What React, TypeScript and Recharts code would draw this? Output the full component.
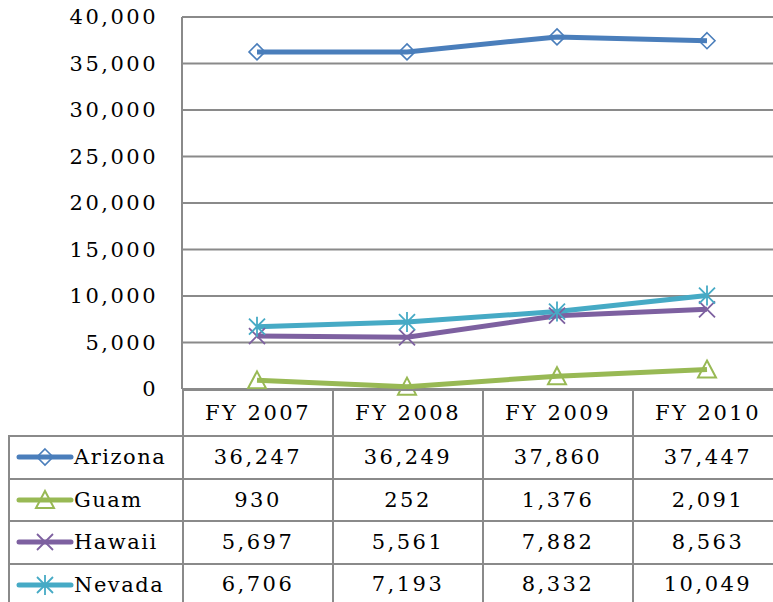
import { CartesianGrid, Line, LineChart, XAxis, YAxis } from 'recharts';

const years = ['FY 2007', 'FY 2008', 'FY 2009', 'FY 2010'];
const arizona = [36247, 36249, 37860, 37447];
const guam = [930, 252, 1376, 2091];
const hawaii = [5697, 5561, 7882, 8563];
const nevada = [6706, 7193, 8332, 10049];
const yTicks = [0, 5000, 10000, 15000, 20000, 25000, 30000, 35000, 40000];

const series = [
  { key: 'Arizona', values: arizona, color: '#4A7EBB', marker: 'diamond' },
  { key: 'Guam', values: guam, color: '#98B954', marker: 'triangle' },
  { key: 'Hawaii', values: hawaii, color: '#7D60A0', marker: 'cross' },
  { key: 'Nevada', values: nevada, color: '#46AAC5', marker: 'star' },
];

const data = years.map((year, i) => {
  const row: Record<string, string | number> = { year };
  series.forEach((s) => {
    row[s.key] = s.values[i];
  });
  return row;
});

const FONT = '"DejaVu Serif", serif';
const GRID = '#8A8A8A';
const PLOT_LEFT = 182;
const BAND = 150;
const HEADER_TOP = 389;
const HEADER_H = 46;
const ROW_H = 42.5;

const fmt = (v: number) => v.toLocaleString('en-US');

function Marker({ cx, cy, kind, color }: { cx: number; cy: number; kind: string; color: string }) {
  if (cx == null || cy == null) return null;
  const r = 8;
  if (kind === 'diamond') {
    return (
      <path
        d={`M${cx},${cy - r}L${cx + r},${cy}L${cx},${cy + r}L${cx - r},${cy}Z`}
        fill="none"
        stroke={color}
        strokeWidth={1.6}
      />
    );
  }
  if (kind === 'triangle') {
    return (
      <path
        d={`M${cx},${cy - 9}L${cx + 9},${cy + 8}L${cx - 9},${cy + 8}Z`}
        fill="none"
        stroke={color}
        strokeWidth={2}
      />
    );
  }
  const d = `M${cx - r},${cy - r}L${cx + r},${cy + r}M${cx - r},${cy + r}L${cx + r},${cy - r}`;
  if (kind === 'cross') {
    return <path d={d} stroke={color} strokeWidth={1.8} fill="none" />;
  }
  return <path d={`${d}M${cx},${cy - 10}L${cx},${cy + 10}`} stroke={color} strokeWidth={1.8} fill="none" />;
}

const cellText: React.CSSProperties = {
  position: 'absolute',
  fontFamily: FONT,
  fontSize: 21,
  letterSpacing: 2.5,
  color: '#000',
  display: 'flex',
  alignItems: 'center',
  justifyContent: 'center',
  boxSizing: 'border-box',
};

export default function App() {
  const rowsTop = HEADER_TOP + HEADER_H;
  return (
    <div
      style={{
        position: 'fixed',
        left: 0,
        top: 0,
        width: 773,
        height: 602,
        overflow: 'hidden',
        background: '#fff',
      }}
    >
      <LineChart
        width={782}
        height={420}
        data={data}
        margin={{ top: 17, right: 0, bottom: 31, left: 0 }}
      >
        <CartesianGrid vertical={false} stroke={GRID} strokeWidth={2} />
        <XAxis dataKey="year" hide padding={{ left: 75, right: 75 }} />
        <YAxis
          width={PLOT_LEFT}
          domain={[0, 40000]}
          ticks={yTicks}
          interval={0}
          tickFormatter={fmt}
          tickLine={false}
          tickSize={0}
          tickMargin={24}
          axisLine={{ stroke: GRID, strokeWidth: 2 }}
          tick={{ fill: '#000', fontSize: 21, fontFamily: FONT, letterSpacing: 2.5 }}
        />
        {series.map((s) => (
          <Line
            key={s.key}
            dataKey={s.key}
            stroke={s.color}
            strokeWidth={5}
            isAnimationActive={false}
            dot={(p: any) => <Marker key={`${s.key}-${p.index}`} cx={p.cx} cy={p.cy} kind={s.marker} color={s.color} />}
            activeDot={false}
          />
        ))}
      </LineChart>

      {/* data table below the plot */}
      {years.map((y, i) => (
        <div
          key={y}
          style={{
            ...cellText,
            left: PLOT_LEFT + i * BAND,
            top: HEADER_TOP,
            width: BAND,
            height: HEADER_H,
            borderLeft: `2px solid ${GRID}`,
            borderTop: `2px solid ${GRID}`,
          }}
        >
          {y}
        </div>
      ))}
      {series.map((s, r) => (
        <div key={s.key}>
          <div
            style={{
              ...cellText,
              left: 8,
              top: rowsTop + r * ROW_H,
              width: PLOT_LEFT - 8,
              height: ROW_H,
              borderLeft: `2px solid ${GRID}`,
              borderTop: `2px solid ${GRID}`,
              justifyContent: 'flex-start',
              paddingLeft: 6,
            }}
          >
            <svg width={58} height={24} style={{ flexShrink: 0 }}>
              <line x1={3} y1={12} x2={55} y2={12} stroke={s.color} strokeWidth={5} strokeLinecap="round" />
              <Marker cx={29} cy={12} kind={s.marker} color={s.color} />
            </svg>
            <span style={{ letterSpacing: 1.5 }}>{s.key}</span>
          </div>
          {s.values.map((v, i) => (
            <div
              key={i}
              style={{
                ...cellText,
                left: PLOT_LEFT + i * BAND,
                top: rowsTop + r * ROW_H,
                width: BAND,
                height: ROW_H,
                borderLeft: `2px solid ${GRID}`,
                borderTop: `2px solid ${GRID}`,
                borderBottom: r === series.length - 1 ? `2px solid ${GRID}` : undefined,
              }}
            >
              {fmt(v)}
            </div>
          ))}
        </div>
      ))}
    </div>
  );
}
